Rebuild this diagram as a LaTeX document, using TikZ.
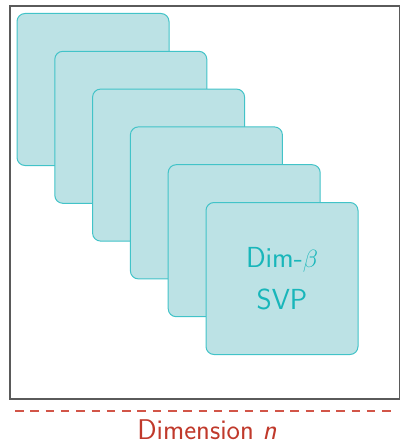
\documentclass[tikz,border=0pt]{standalone}
\usepackage{xcolor}
\definecolor{sqfill}{RGB}{188,226,229}
\definecolor{sqdraw}{RGB}{66,195,200}
\definecolor{sqtext}{RGB}{24,182,186}
\definecolor{dimred}{RGB}{192,57,43}
\definecolor{dashred}{RGB}{210,85,72}
\definecolor{framegray}{RGB}{90,90,90}
\tikzset{
  svpbox/.style={draw=sqdraw, fill=sqfill, line width=1pt, rounded corners=8pt,
    minimum width=152pt, minimum height=152pt, inner sep=0pt, anchor=north west,
    text=sqtext, font=\sffamily\fontsize{29}{40}\selectfont, align=center},
}
\begin{document}
\begin{tikzpicture}[x=1pt,y=-1pt]
\useasboundingbox (0,0) rectangle (399,444);
\node[draw=framegray, line width=1.3pt, minimum width=390pt, minimum height=393pt, inner sep=0pt, anchor=north west] (frame) at (9.3,5.3) {};
\foreach \i in {0,...,4}{
  \node[svpbox] (b\i) at ({16.5+37.8*\i},{13+37.8*\i}) {};
}
\node[svpbox] (b5) at ({16.5+37.8*5},{13+37.8*5}) {Dim-$\beta$\\[2pt]SVP};
\coordinate (dl) at (15,411);
\coordinate (dr) at (393,411);
\draw[draw=dashred, line width=1.1pt, dash pattern=on 8.5pt off 6.8pt] (dl) -- (dr);
\node[text=dimred, font=\sffamily\fontsize{28.5}{32}\selectfont, anchor=base] (dim) at (207,439) {Dimension \textit{n}};
\end{tikzpicture}
\end{document}
